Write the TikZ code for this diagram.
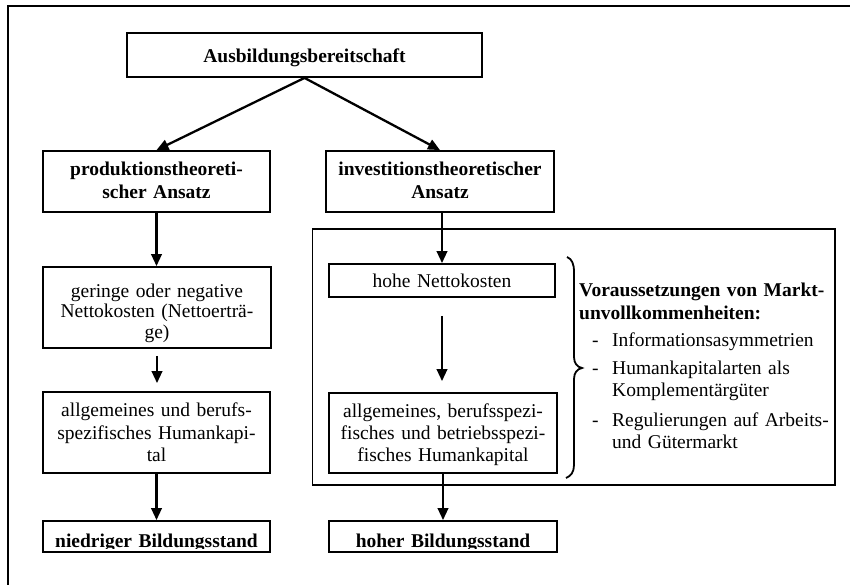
\documentclass[tikz,border=0pt]{standalone}
\usepackage{fontspec}
\setmainfont{Liberation Serif}
\usetikzlibrary{arrows.meta}
\begin{document}
\begin{tikzpicture}[x=1pt,y=-1pt,
  bx/.style={draw, line width=1.8pt, inner sep=0pt},
  arr/.style={line width=2.3pt, -{Triangle[length=12pt,width=10.5pt]}},
  hd/.style={anchor=base, inner sep=0pt, align=center, font=\fontsize{19.5}{23.5}\selectfont\bfseries},
  tx/.style={anchor=base, inner sep=0pt, align=center, font=\fontsize{19.5}{22}\selectfont},
  lt/.style={anchor=base west, inner sep=0pt, align=left, text width=250pt, font=\fontsize{19.5}{22}\selectfont}
]
\useasboundingbox (0,0) rectangle (850,585);
% outer frame (only left and top edges visible)
\draw[line width=2pt] (8,585) -- (8,6.5) -- (850,6.5);

% boxes
\node[bx, minimum width=355pt, minimum height=44pt] (tb) at (304.5,55) {};
\node[bx, minimum width=227pt, minimum height=61pt] (lp) at (156.5,181.5) {};
\node[bx, minimum width=228pt, minimum height=61pt] (ip) at (440,181.5) {};
\node[bx, minimum width=522.5pt, minimum height=256pt] (mk) at (573.75,357) {};
\node[bx, minimum width=228pt, minimum height=81pt] (ger) at (157,307.5) {};
\node[bx, minimum width=227pt, minimum height=81pt] (alg) at (156.5,432.5) {};
\node[bx, minimum width=227pt, minimum height=31pt] (nied) at (156.5,536.5) {};
\node[bx, minimum width=226pt, minimum height=33pt] (hohe) at (442,280.5) {};
\node[bx, minimum width=228pt, minimum height=80pt] (alg2) at (443,433) {};
\node[bx, minimum width=228pt, minimum height=31pt] (hoher) at (443,536.5) {};

% texts
\node[hd, text width=340pt] (tbt) at (304.5,62.5) {Ausbildungsbereitschaft};
\node[hd, text width=220pt] (lpt) at (156.5,175.5) {produktionstheoreti-\\scher Ansatz};
\node[hd, text width=220pt] (ipt) at (440,175.5) {investitionstheoretischer\\Ansatz};
\node[tx, text width=220pt, font=\fontsize{19.5}{20.5}\selectfont] (gert) at (157,297) {geringe oder negative\\Nettokosten (Nettoerträ-\\ge)};
\node[tx, text width=220pt, font=\fontsize{19.5}{22.5}\selectfont] (algt) at (156.5,416.5) {allgemeines und berufs-\\spezifisches Humankapi-\\tal};
\node[tx, text width=220pt] (hohet) at (442,287) {hohe Nettokosten};
\node[tx, text width=224pt] (alg2t) at (443,417) {allgemeines, berufsspezi-\\fisches und betriebsspezi-\\fisches Humankapital};
\begin{scope}
  \clip (44,522) rectangle (269,548.3);
  \node[hd, text width=220pt] (niedt) at (156.5,547.5) {niedriger Bildungsstand};
\end{scope}
\begin{scope}
  \clip (330,522) rectangle (556,548.3);
  \node[hd, text width=220pt] (hohert) at (443,547) {hoher Bildungsstand};
\end{scope}

% brace
\draw[line width=1.8pt] (567,257) .. controls (572,259) and (574,264) .. (574,272)
  -- (574,357) .. controls (574,363) and (577,367) .. (582,368)
  .. controls (577,369) and (574,373) .. (574,379)
  -- (574,465) .. controls (574,472) and (571,476) .. (566,478);

% right-hand text
\node[lt, font=\fontsize{19.5}{23}\selectfont\bfseries] (vor) at (579,296) {Voraussetzungen von Markt-\\unvollkommenheiten:};
\node[anchor=base west, inner sep=0pt, font=\fontsize{19.5}{22}\selectfont] (d1) at (592,346) {-};
\node[lt] (i1) at (612,346) {Informationsasymmetrien};
\node[anchor=base west, inner sep=0pt, font=\fontsize{19.5}{22}\selectfont] (d2) at (592,374) {-};
\node[lt] (i2) at (612,374) {Humankapitalarten als\\Komplementärgüter};
\node[anchor=base west, inner sep=0pt, font=\fontsize{19.5}{22}\selectfont] (d3) at (592,426) {-};
\node[lt] (i3) at (612,426) {Regulierungen auf Arbeits-\\und Gütermarkt};

% connectors
\draw[arr] (tb.south) -- (lp.north);
\draw[arr] (tb.south) -- (ip.north);
\draw[arr] (lp.south) -- (lp.south |- ger.north);
\draw[arr, shorten <=7pt, shorten >=8pt] (ger.south) -- (ger.south |- alg.north);
\draw[arr] (alg.south) -- (nied.north);
\draw[arr] (hohe.north |- ip.south) -- (hohe.north);
\draw[arr, shorten <=18pt, shorten >=11pt] (hohe.south) -- (hohe.south |- alg2.north);
\draw[arr] (alg2.south) -- (alg2.south |- hoher.north);
\end{tikzpicture}
\end{document}
